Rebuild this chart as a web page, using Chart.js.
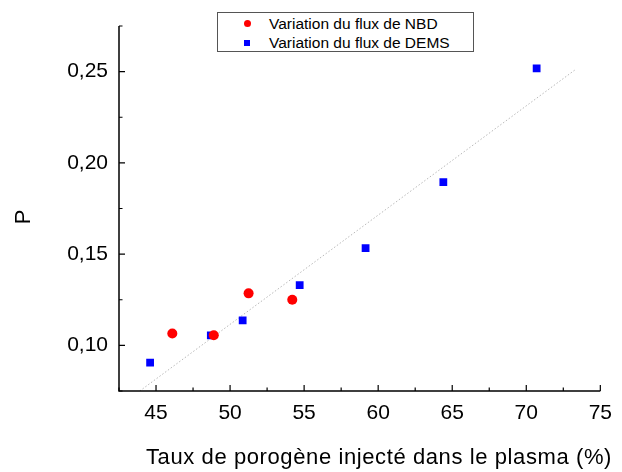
<!DOCTYPE html>
<html>
<head>
<meta charset="utf-8">
<script src="https://cdn.jsdelivr.net/npm/chart.js@4"></script>
<style>
  html, body { margin: 0; padding: 0; background: #fff; }
  #wrap { position: relative; width: 622px; height: 472px; }
  #legend {
    position: absolute; left: 217px; top: 12px; width: 255px; height: 38px;
    border: 1px solid #555; background: #fff;
    font-family: "Liberation Sans", Arial, sans-serif; font-size: 15.5px; color: #000;
  }
  #legend .row { position: absolute; left: 0; height: 19px; line-height: 19px; white-space: nowrap; }
  #legend .mk { position: absolute; }
  #legend .txt { position: absolute; left: 51px; }
</style>
</head>
<body>
<div id="wrap">
  <canvas id="chart" width="622" height="472"></canvas>
  <div id="legend"></div>
</div>
<script>
// Données
const nbdX = [46.1, 48.9, 51.25, 54.2];
const nbdY = [0.1065, 0.1055, 0.1285, 0.125];
const demsX = [44.6, 48.7, 50.85, 54.7, 59.15, 64.4, 70.7];
const demsY = [0.0905, 0.1055, 0.1137, 0.133, 0.1533, 0.1895, 0.2518];
// Droite de tendance (pointillés)
const fitX = [43.9, 73.35];
const fitY = [0.075, 0.2513];

const xTicks = [45, 50, 55, 60, 65, 70, 75];
const yTicks = [0.10, 0.15, 0.20, 0.25];
const xMinor = [42.5, 47.5, 52.5, 57.5, 62.5, 67.5, 72.5];
const yMinor = [0.075, 0.125, 0.175, 0.225, 0.275];

const labels = ['Variation du flux de NBD', 'Variation du flux de DEMS'];
const xTitle = 'Taux de porogène injecté dans le plasma (%)';
const yTitle = 'P';
const font = '"Liberation Sans", Arial, sans-serif';

const toPoints = (xs, ys) => xs.map((x, i) => ({ x: x, y: ys[i] }));

// Axes avec graduations intérieures + titres des axes
const axesPlugin = {
    id: 'axes',
    afterDraw(chart) {
        const { ctx, chartArea: a, scales: { x, y } } = chart;
        ctx.save();
        ctx.strokeStyle = '#000';
        ctx.lineWidth = 1.5;
        ctx.beginPath();
        ctx.moveTo(a.left, a.top);
        ctx.lineTo(a.left, a.bottom);
        ctx.lineTo(a.right, a.bottom);
        ctx.stroke();
        ctx.lineWidth = 1.2;
        ctx.beginPath();
        xTicks.forEach(v => { const p = x.getPixelForValue(v); ctx.moveTo(p, a.bottom); ctx.lineTo(p, a.bottom - 6); });
        xMinor.forEach(v => { const p = x.getPixelForValue(v); ctx.moveTo(p, a.bottom); ctx.lineTo(p, a.bottom - 3.5); });
        yTicks.forEach(v => { const p = y.getPixelForValue(v); ctx.moveTo(a.left, p); ctx.lineTo(a.left + 6, p); });
        yMinor.forEach(v => { const p = y.getPixelForValue(v); ctx.moveTo(a.left, p); ctx.lineTo(a.left + 3.5, p); });
        ctx.stroke();

        ctx.fillStyle = '#000';
        ctx.textBaseline = 'middle';
        ctx.textAlign = 'center';
        ctx.font = '22px ' + font;
        ctx.letterSpacing = '0.6px';
        ctx.fillText(xTitle, 379, 458);
        ctx.letterSpacing = '0px';
        ctx.translate(24, 217);
        ctx.rotate(-Math.PI / 2);
        ctx.fillText(yTitle, 0, 0);
        ctx.restore();
    }
};

const chart = new Chart(document.getElementById('chart'), {
    type: 'scatter',
    data: {
        datasets: [
            {
                label: labels[0],
                data: toPoints(nbdX, nbdY),
                pointStyle: 'circle',
                pointRadius: 5,
                pointBackgroundColor: '#ff0000',
                pointBorderWidth: 0
            },
            {
                label: labels[1],
                data: toPoints(demsX, demsY),
                pointStyle: 'rect',
                pointRadius: 5.5,
                pointBackgroundColor: '#0000ff',
                pointBorderWidth: 0
            },
            {
                label: 'fit',
                type: 'line',
                data: toPoints(fitX, fitY),
                borderColor: '#b8b8b8',
                borderWidth: 1,
                borderDash: [1.5, 2],
                pointRadius: 0,
                fill: false
            }
        ]
    },
    options: {
        responsive: false,
        animation: false,
        layout: { padding: { top: 26, right: 14, left: 0, bottom: 0 } },
        plugins: { legend: { display: false }, tooltip: { enabled: false } },
        scales: {
            x: {
                type: 'linear', min: 42.5, max: 75,
                grid: { display: false, drawTicks: false },
                border: { display: false },
                afterBuildTicks: s => { s.ticks = xTicks.map(v => ({ value: v })); },
                afterFit: s => { s.height = 81; },
                ticks: { color: '#000', font: { family: font, size: 21 }, padding: 10, maxRotation: 0 }
            },
            y: {
                type: 'linear', min: 0.075, max: 0.275,
                grid: { display: false, drawTicks: false },
                border: { display: false },
                afterBuildTicks: s => { s.ticks = yTicks.map(v => ({ value: v })); },
                afterFit: s => { s.width = 119; },
                ticks: {
                    color: '#000', font: { family: font, size: 21 }, padding: 11,
                    callback: v => v.toFixed(2).replace('.', ',')
                }
            }
        }
    },
    plugins: [axesPlugin]
});

// Légende encadrée
const legend = document.getElementById('legend');
legend.innerHTML = `
    <div class="row" style="top:1px"><span class="mk" style="left:26px;top:6px;width:7px;height:7px;border-radius:50%;background:#ff0000"></span><span class="txt">${labels[0]}</span></div>
    <div class="row" style="top:20px"><span class="mk" style="left:26px;top:6.5px;width:6px;height:6px;background:#0000ff"></span><span class="txt">${labels[1]}</span></div>
`;
</script>
</body>
</html>
